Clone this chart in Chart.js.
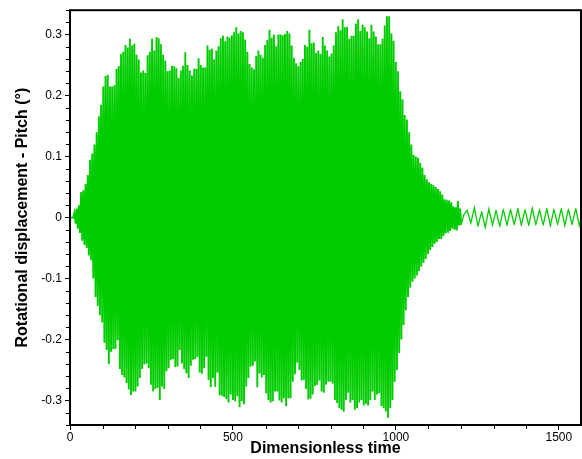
<!DOCTYPE html>
<html>
<head>
<meta charset="utf-8">
<script src="https://cdn.jsdelivr.net/npm/chart.js@4.4.1/dist/chart.umd.min.js"></script>
<style>
  html, body { margin: 0; padding: 0; background: #fff; }
  canvas { display: block; }
</style>
</head>
<body>
<canvas id="pitchChart" width="582" height="459"></canvas>
<script>
// rest state before the release
const startTime = [0, 10];
const startPitch = [0, 0];

// growth, limit-cycle burst and decay: one crest and one trough per cycle
const burstTime = [
    13.8, 17.2, 20.6, 24, 27.4, 30.8, 34.2, 37.6, 41, 44.4,
    47.8, 51.2, 54.6, 58, 61.4, 64.8, 68.2, 71.6, 75, 78.4,
    81.8, 85.2, 88.6, 92, 95.4, 98.8, 102.2, 105.6, 109, 112.4,
    115.8, 119.2, 122.6, 126, 129.4, 132.8, 136.2, 139.6, 143, 146.4,
    149.8, 153.2, 156.6, 160, 163.4, 166.8, 170.2, 173.6, 177, 180.4,
    183.8, 187.2, 190.6, 194, 197.4, 200.8, 204.2, 207.6, 211, 214.4,
    217.8, 221.2, 224.6, 228, 231.4, 234.8, 238.2, 241.6, 245, 248.4,
    251.8, 255.2, 258.6, 262, 265.4, 268.8, 272.2, 275.6, 279, 282.4,
    285.8, 289.2, 292.6, 296, 299.4, 302.8, 306.2, 309.6, 313, 316.4,
    319.8, 323.2, 326.6, 330, 333.4, 336.8, 340.2, 343.6, 347, 350.4,
    353.8, 357.2, 360.6, 364, 367.4, 370.8, 374.2, 377.6, 381, 384.4,
    387.8, 391.2, 394.6, 398, 401.4, 404.8, 408.2, 411.6, 415, 418.4,
    421.8, 425.2, 428.6, 432, 435.4, 438.8, 442.2, 445.6, 449, 452.4,
    455.8, 459.2, 462.6, 466, 469.4, 472.8, 476.2, 479.6, 483, 486.4,
    489.8, 493.2, 496.6, 500, 503.4, 506.8, 510.2, 513.6, 517, 520.4,
    523.8, 527.2, 530.6, 534, 537.4, 540.8, 544.2, 547.6, 551, 554.4,
    557.8, 561.2, 564.6, 568, 571.4, 574.8, 578.2, 581.6, 585, 588.4,
    591.8, 595.2, 598.6, 602, 605.4, 608.8, 612.2, 615.6, 619, 622.4,
    625.8, 629.2, 632.6, 636, 639.4, 642.8, 646.2, 649.6, 653, 656.4,
    659.8, 663.2, 666.6, 670, 673.4, 676.8, 680.2, 683.6, 687, 690.4,
    693.8, 697.2, 700.6, 704, 707.4, 710.8, 714.2, 717.6, 721, 724.4,
    727.8, 731.2, 734.6, 738, 741.4, 744.8, 748.2, 751.6, 755, 758.4,
    761.8, 765.2, 768.6, 772, 775.4, 778.8, 782.2, 785.6, 789, 792.4,
    795.8, 799.2, 802.6, 806, 809.4, 812.8, 816.2, 819.6, 823, 826.4,
    829.8, 833.2, 836.6, 840, 843.4, 846.8, 850.2, 853.6, 857, 860.4,
    863.8, 867.2, 870.6, 874, 877.4, 880.8, 884.2, 887.6, 891, 894.4,
    897.8, 901.2, 904.6, 908, 911.4, 914.8, 918.2, 921.6, 925, 928.4,
    931.8, 935.2, 938.6, 942, 945.4, 948.8, 952.2, 955.6, 959, 962.4,
    965.8, 969.2, 972.6, 976, 979.4, 982.8, 986.2, 989.6, 993, 996.4,
    999.8, 1003.2, 1006.6, 1010, 1013.4, 1016.8, 1020.2, 1023.6, 1027, 1030.4,
    1033.8, 1037.2, 1040.6, 1044, 1047.4, 1050.8, 1054.2, 1057.6, 1061, 1064.4,
    1067.8, 1071.2, 1074.6, 1078, 1081.4, 1084.8, 1088.2, 1091.6, 1095, 1098.4,
    1101.8, 1105.2, 1108.6, 1112, 1115.4, 1118.8, 1122.2, 1125.6, 1129, 1132.4,
    1135.8, 1139.2, 1142.6, 1146, 1149.4, 1152.8, 1156.2, 1159.6, 1163, 1166.4,
    1169.8, 1173.2, 1176.6, 1180, 1183.4, 1186.8, 1190.2, 1193.6, 1197, 1200.4
];
const burstPitch = [
    0.008, -0.010, 0.015, -0.018, 0.020, -0.025, 0.042, -0.038, 0.045, -0.045,
    0.055, -0.050, 0.070, -0.062, 0.095, -0.070, 0.105, -0.100, 0.120, -0.130,
    0.140, -0.145, 0.166, -0.160, 0.185, -0.172, 0.215, -0.205, 0.232, -0.217,
    0.234, -0.240, 0.215, -0.220, 0.215, -0.216, 0.217, -0.214, 0.244, -0.201,
    0.248, -0.248, 0.267, -0.258, 0.272, -0.262, 0.283, -0.271, 0.279, -0.282,
    0.293, -0.291, 0.282, -0.285, 0.285, -0.285, 0.267, -0.277, 0.259, -0.263,
    0.238, -0.248, 0.241, -0.241, 0.237, -0.239, 0.266, -0.247, 0.272, -0.274,
    0.292, -0.285, 0.274, -0.281, 0.296, -0.279, 0.294, -0.299, 0.284, -0.277,
    0.267, -0.281, 0.257, -0.252, 0.240, -0.247, 0.241, -0.233, 0.249, -0.232,
    0.248, -0.245, 0.245, -0.244, 0.229, -0.217, 0.241, -0.239, 0.249, -0.248,
    0.271, -0.255, 0.250, -0.263, 0.241, -0.243, 0.233, -0.233, 0.244, -0.232,
    0.244, -0.228, 0.260, -0.254, 0.250, -0.256, 0.246, -0.247, 0.246, -0.228,
    0.282, -0.266, 0.275, -0.278, 0.277, -0.263, 0.259, -0.276, 0.274, -0.254,
    0.281, -0.290, 0.294, -0.292, 0.298, -0.294, 0.289, -0.296, 0.297, -0.303,
    0.295, -0.290, 0.299, -0.299, 0.304, -0.301, 0.312, -0.293, 0.302, -0.311,
    0.306, -0.301, 0.304, -0.306, 0.292, -0.277, 0.272, -0.263, 0.252, -0.244,
    0.246, -0.243, 0.243, -0.236, 0.265, -0.278, 0.274, -0.255, 0.267, -0.262,
    0.262, -0.258, 0.283, -0.288, 0.290, -0.299, 0.308, -0.303, 0.295, -0.301,
    0.300, -0.285, 0.281, -0.285, 0.300, -0.300, 0.300, -0.303, 0.299, -0.296,
    0.301, -0.309, 0.306, -0.296, 0.302, -0.296, 0.282, -0.269, 0.262, -0.257,
    0.253, -0.238, 0.247, -0.250, 0.255, -0.267, 0.260, -0.266, 0.282, -0.281,
    0.280, -0.297, 0.308, -0.297, 0.286, -0.290, 0.287, -0.276, 0.270, -0.274,
    0.274, -0.267, 0.268, -0.285, 0.296, -0.287, 0.282, -0.274, 0.274, -0.269,
    0.264, -0.269, 0.269, -0.271, 0.281, -0.299, 0.304, -0.304, 0.314, -0.312,
    0.306, -0.315, 0.325, -0.318, 0.312, -0.299, 0.313, -0.287, 0.293, -0.303,
    0.298, -0.299, 0.298, -0.315, 0.318, -0.312, 0.325, -0.303, 0.306, -0.299,
    0.315, -0.308, 0.312, -0.305, 0.305, -0.308, 0.294, -0.299, 0.316, -0.285,
    0.305, -0.299, 0.297, -0.290, 0.284, -0.288, 0.284, -0.309, 0.293, -0.312,
    0.315, -0.318, 0.330, -0.328, 0.330, -0.312, 0.302, -0.299, 0.290, -0.269,
    0.255, -0.250, 0.240, -0.222, 0.207, -0.200, 0.194, -0.176, 0.168, -0.152,
    0.161, -0.130, 0.140, -0.115, 0.120, -0.105, 0.103, -0.100, 0.100, -0.095,
    0.098, -0.088, 0.090, -0.080, 0.082, -0.074, 0.070, -0.068, 0.063, -0.060,
    0.058, -0.053, 0.055, -0.048, 0.053, -0.043, 0.050, -0.040, 0.047, -0.035,
    0.043, -0.035, 0.038, -0.030, 0.030, -0.026, 0.028, -0.024, 0.028, -0.022,
    0.025, -0.018, 0.018, -0.020, 0.017, -0.021, 0.027, -0.013, 0.015, -0.012
];

// small residual oscillation after the burst dies out
const tailTime = [
    1208, 1218.7, 1229.8, 1240.9, 1252, 1263.1, 1274.2, 1285.3, 1296.4, 1307.5,
    1318.6, 1329.7, 1340.8, 1351.9, 1363, 1374.1, 1385.2, 1396.3, 1407.4, 1418.5,
    1429.6, 1440.7, 1451.8, 1462.9, 1474, 1485.1, 1496.2, 1507.3, 1518.4, 1529.5,
    1540.6, 1551.7, 1562.8, 1573.9
];
const tailPitch = [
    0.004, 0.012, -0.009, 0.016, -0.014, 0.010, -0.016, 0.014, -0.012, 0.012,
    -0.015, 0.014, -0.013, 0.014, -0.012, 0.015, -0.013, 0.014, -0.013, 0.015,
    -0.012, 0.014, -0.013, 0.015, -0.013, 0.014, -0.012, 0.015, -0.013, 0.014,
    -0.012, 0.015, -0.013, 0.014
];

const xTicks = [0, 500, 1000, 1500];
const yTicks = [-0.3, -0.2, -0.1, 0, 0.1, 0.2, 0.3];

const time = startTime.concat(burstTime, tailTime);
const pitch = startPitch.concat(burstPitch, tailPitch);
const points = time.map((t, i) => ({ x: t, y: pitch[i] }));

const FONT = '"Liberation Sans", Arial, Helvetica, sans-serif';
Chart.defaults.font.family = FONT;
Chart.defaults.color = '#000';

// box frame plus the short minor ticks (every 100 in time, every 0.02 in pitch)
const framePlugin = {
    id: 'frame',
    afterDraw(chart) {
        const { ctx, chartArea: a, scales: { x, y } } = chart;
        ctx.save();
        ctx.strokeStyle = '#000';
        ctx.lineWidth = 1;
        ctx.beginPath();
        for (let v = 100; v < 1568; v += 100) {
            if (v % 500 === 0) continue;
            const px = Math.round(x.getPixelForValue(v)) + 0.5;
            ctx.moveTo(px, a.bottom);
            ctx.lineTo(px, a.bottom + 4);
        }
        for (let i = -17; i <= 17; i++) {
            if (i % 5 === 0) continue;
            const py = Math.round(y.getPixelForValue(i * 0.02)) + 0.5;
            ctx.moveTo(a.left - 4, py);
            ctx.lineTo(a.left, py);
        }
        ctx.stroke();
        ctx.lineWidth = 2;
        ctx.strokeRect(a.left, a.top, a.right - a.left, a.bottom - a.top);
        ctx.restore();
    }
};

new Chart(document.getElementById('pitchChart'), {
    type: 'line',
    data: {
        datasets: [{
            data: points,
            borderColor: '#00cc00',
            borderWidth: 1.9,
            pointRadius: 0,
            // a tiny tension keeps Chart.js off its pixel-merging fast path
            tension: 0.0001,
            // the slow residual wiggle is drawn a little thinner
            segment: {
                borderWidth: c => (c.p0.parsed.x >= 1200 ? 1.3 : 1.9)
            },
            fill: false
        }]
    },
    options: {
        responsive: false,
        animation: false,
        devicePixelRatio: 1,
        layout: { padding: { top: 8, right: 1, left: 0, bottom: 0 } },
        plugins: {
            legend: { display: false },
            tooltip: { enabled: false }
        },
        scales: {
            x: {
                type: 'linear',
                min: 0,
                max: 1568,
                afterFit(scale) { scale.height = 34; },
                afterBuildTicks(scale) { scale.ticks = xTicks.map(v => ({ value: v })); },
                border: { display: false },
                grid: { drawOnChartArea: false, tickLength: 5, tickColor: '#000' },
                ticks: { font: { size: 12 }, padding: 0, maxRotation: 0, callback: v => String(v) },
                title: {
                    display: true,
                    text: 'Dimensionless time',
                    font: { size: 16, weight: 'bold' },
                    padding: { top: 0, bottom: 1 }
                }
            },
            y: {
                min: -0.34,
                max: 0.34,
                afterFit(scale) { scale.width = 70; },
                afterBuildTicks(scale) { scale.ticks = yTicks.map(v => ({ value: v })); },
                border: { display: false },
                grid: { drawOnChartArea: false, tickLength: 5, tickColor: '#000' },
                ticks: { font: { size: 12 }, padding: 3, callback: v => String(v) },
                title: {
                    display: true,
                    text: 'Rotational displacement - Pitch (°)',
                    font: { size: 16, weight: 'bold' },
                    padding: { top: 13, bottom: 0 }
                }
            }
        }
    },
    plugins: [framePlugin]
});
</script>
</body>
</html>
